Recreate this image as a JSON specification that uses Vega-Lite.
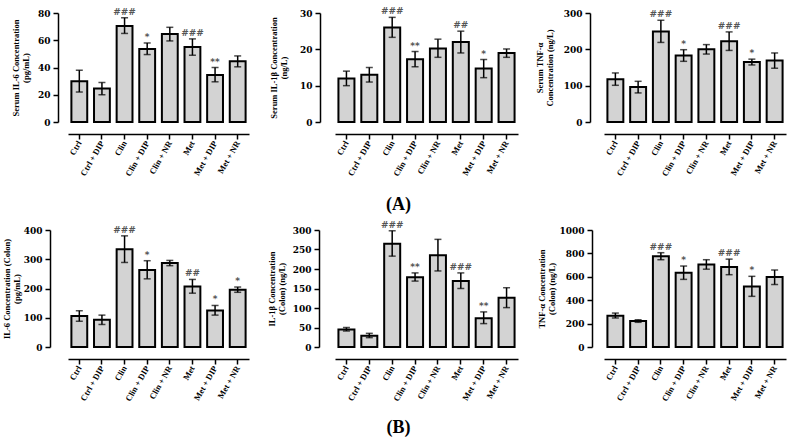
{
  "$schema": "https://vega.github.io/schema/vega-lite/v6.json",
  "background": "white",
  "padding": {"left": 2, "top": 7, "right": 5, "bottom": 5},
  "config": {
    "view": {"stroke": null},
    "axis": {"grid": false, "domainColor": "black", "tickColor": "black", "labelColor": "black", "titleColor": "black"},
    "axisX": {"offset": 12, "domainWidth": 1.5, "tickWidth": 1.5, "tickSize": 5, "labelAngle": -60, "labelFont": "Liberation Serif", "labelFontWeight": "bold", "labelFontSize": 8.5, "labelPadding": 2},
    "axisY": {"domainWidth": 1.5, "tickWidth": 1.5, "tickSize": 5, "labelOverlap": false, "format": "d", "labelFont": "DejaVu Serif", "labelFontWeight": "bold", "labelFontSize": 9, "labelPadding": 3, "titleFont": "Liberation Serif", "titleFontWeight": "bold", "titleFontSize": 8.5, "titlePadding": 5, "titleLineHeight": 10}
  },
  "data": {"values": [
    {"panel": "p1", "group": "Ctrl", "mean": 30, "lo": 22, "hi": 38, "sig": ""},
    {"panel": "p1", "group": "Ctrl + DIP", "mean": 24.5, "lo": 20, "hi": 29, "sig": ""},
    {"panel": "p1", "group": "Clin", "mean": 70.5, "lo": 65, "hi": 76.5, "sig": "###"},
    {"panel": "p1", "group": "Clin + DIP", "mean": 53.5, "lo": 49.5, "hi": 58, "sig": "*"},
    {"panel": "p1", "group": "Clin + NR", "mean": 64.5, "lo": 59.5, "hi": 69.5, "sig": ""},
    {"panel": "p1", "group": "Met", "mean": 55, "lo": 49, "hi": 61, "sig": "###"},
    {"panel": "p1", "group": "Met + DIP", "mean": 34.5, "lo": 29.5, "hi": 40, "sig": "**"},
    {"panel": "p1", "group": "Met + NR", "mean": 44.5, "lo": 40.5, "hi": 48.5, "sig": ""},
    {"panel": "p2", "group": "Ctrl", "mean": 12, "lo": 10, "hi": 14, "sig": ""},
    {"panel": "p2", "group": "Ctrl + DIP", "mean": 13, "lo": 11, "hi": 15, "sig": ""},
    {"panel": "p2", "group": "Clin", "mean": 26, "lo": 23.3, "hi": 28.8, "sig": "###"},
    {"panel": "p2", "group": "Clin + DIP", "mean": 17.3, "lo": 15.2, "hi": 19.4, "sig": "**"},
    {"panel": "p2", "group": "Clin + NR", "mean": 20.2, "lo": 17.8, "hi": 22.8, "sig": ""},
    {"panel": "p2", "group": "Met", "mean": 22, "lo": 19, "hi": 25, "sig": "##"},
    {"panel": "p2", "group": "Met + DIP", "mean": 14.7, "lo": 12.2, "hi": 17.2, "sig": "*"},
    {"panel": "p2", "group": "Met + NR", "mean": 19, "lo": 17.8, "hi": 20.1, "sig": ""},
    {"panel": "p3", "group": "Ctrl", "mean": 118, "lo": 101, "hi": 135, "sig": ""},
    {"panel": "p3", "group": "Ctrl + DIP", "mean": 96, "lo": 80, "hi": 112, "sig": ""},
    {"panel": "p3", "group": "Clin", "mean": 249, "lo": 219, "hi": 280, "sig": "###"},
    {"panel": "p3", "group": "Clin + DIP", "mean": 183, "lo": 167, "hi": 199, "sig": "*"},
    {"panel": "p3", "group": "Clin + NR", "mean": 200, "lo": 187, "hi": 213, "sig": ""},
    {"panel": "p3", "group": "Met", "mean": 222, "lo": 197, "hi": 248, "sig": "###"},
    {"panel": "p3", "group": "Met + DIP", "mean": 165, "lo": 157, "hi": 173, "sig": "*"},
    {"panel": "p3", "group": "Met + NR", "mean": 169, "lo": 148, "hi": 190, "sig": ""},
    {"panel": "p4", "group": "Ctrl", "mean": 106, "lo": 88, "hi": 124, "sig": ""},
    {"panel": "p4", "group": "Ctrl + DIP", "mean": 93, "lo": 77, "hi": 109, "sig": ""},
    {"panel": "p4", "group": "Clin", "mean": 334, "lo": 289, "hi": 380, "sig": "###"},
    {"panel": "p4", "group": "Clin + DIP", "mean": 263, "lo": 233, "hi": 295, "sig": "*"},
    {"panel": "p4", "group": "Clin + NR", "mean": 287, "lo": 278, "hi": 296, "sig": ""},
    {"panel": "p4", "group": "Met", "mean": 207, "lo": 184, "hi": 231, "sig": "##"},
    {"panel": "p4", "group": "Met + DIP", "mean": 125, "lo": 109, "hi": 142, "sig": "*"},
    {"panel": "p4", "group": "Met + NR", "mean": 196, "lo": 187, "hi": 205, "sig": "*"},
    {"panel": "p5", "group": "Ctrl", "mean": 45, "lo": 41, "hi": 50, "sig": ""},
    {"panel": "p5", "group": "Ctrl + DIP", "mean": 29, "lo": 24, "hi": 35, "sig": ""},
    {"panel": "p5", "group": "Clin", "mean": 265, "lo": 233, "hi": 298, "sig": "###"},
    {"panel": "p5", "group": "Clin + DIP", "mean": 179, "lo": 169, "hi": 190, "sig": "**"},
    {"panel": "p5", "group": "Clin + NR", "mean": 235, "lo": 195, "hi": 276, "sig": ""},
    {"panel": "p5", "group": "Met", "mean": 169, "lo": 150, "hi": 190, "sig": "###"},
    {"panel": "p5", "group": "Met + DIP", "mean": 74, "lo": 60, "hi": 90, "sig": "**"},
    {"panel": "p5", "group": "Met + NR", "mean": 126, "lo": 101, "hi": 152, "sig": ""},
    {"panel": "p6", "group": "Ctrl", "mean": 268, "lo": 248, "hi": 290, "sig": ""},
    {"panel": "p6", "group": "Ctrl + DIP", "mean": 222, "lo": 211, "hi": 233, "sig": ""},
    {"panel": "p6", "group": "Clin", "mean": 775, "lo": 746, "hi": 806, "sig": "###"},
    {"panel": "p6", "group": "Clin + DIP", "mean": 635, "lo": 578, "hi": 692, "sig": "*"},
    {"panel": "p6", "group": "Clin + NR", "mean": 706, "lo": 665, "hi": 746, "sig": ""},
    {"panel": "p6", "group": "Met", "mean": 684, "lo": 618, "hi": 751, "sig": "###"},
    {"panel": "p6", "group": "Met + DIP", "mean": 518, "lo": 433, "hi": 604, "sig": "*"},
    {"panel": "p6", "group": "Met + NR", "mean": 598, "lo": 534, "hi": 658, "sig": ""}
  ]},
  "spacing": 217,
  "bounds": "flush",
  "vconcat": [
    {
      "spacing": 86,
      "bounds": "flush",
      "hconcat": [
        {
          "width": 181, "height": 109,
          "transform": [{"filter": "datum.panel === 'p1'"}],
          "encoding": {
            "x": {"field": "group", "type": "nominal", "sort": ["Ctrl", "Ctrl + DIP", "Clin", "Clin + DIP", "Clin + NR", "Met", "Met + DIP", "Met + NR"], "scale": {"paddingInner": 0.3, "paddingOuter": 0.15}, "axis": {"title": null}},
            "y": {"field": "mean", "type": "quantitative", "scale": {"domain": [0, 80], "nice": false}, "axis": {"title": ["Serum IL-6 Concentration", "(pg/mL)"], "values": [0, 20, 40, 60, 80], "labelOverlap": false, "format": "d", "offset": 10, "titlePadding": 7}}
          },
          "layer": [
            {"mark": {"type": "bar", "fill": "#d3d3d3", "stroke": "black", "strokeWidth": 2}},
            {"mark": {"type": "rule", "color": "black", "strokeWidth": 1.5}, "encoding": {"y": {"field": "lo"}, "y2": {"field": "hi"}}},
            {"mark": {"type": "tick", "color": "black", "size": 7, "thickness": 1.5}, "encoding": {"y": {"field": "lo"}}},
            {"mark": {"type": "tick", "color": "black", "size": 7, "thickness": 1.5}, "encoding": {"y": {"field": "hi"}}},
            {"mark": {"type": "text", "baseline": "alphabetic", "dy": -3, "font": "DejaVu Sans", "fontWeight": "bold", "fontSize": 9, "color": "#555"}, "encoding": {"y": {"field": "hi"}, "text": {"field": "sig"}}}
          ]
        },
        {
          "width": 183, "height": 109,
          "transform": [{"filter": "datum.panel === 'p2'"}],
          "encoding": {
            "x": {"field": "group", "type": "nominal", "sort": ["Ctrl", "Ctrl + DIP", "Clin", "Clin + DIP", "Clin + NR", "Met", "Met + DIP", "Met + NR"], "scale": {"paddingInner": 0.3, "paddingOuter": 0.15}, "title": "(A)", "axis": {"titleX": 63, "titleY": 70, "titleBaseline": "middle", "titleAlign": "center", "titleFont": "Liberation Serif", "titleFontWeight": "bold", "titleFontSize": 18, "titleColor": "black"}},
            "y": {"field": "mean", "type": "quantitative", "scale": {"domain": [0, 30], "nice": false}, "axis": {"title": ["Serum IL-1β Concentration", "(ng/L)"], "values": [0, 10, 20, 30], "labelOverlap": false, "format": "d", "offset": 15, "titlePadding": 11}}
          },
          "layer": [
            {"mark": {"type": "bar", "fill": "#d3d3d3", "stroke": "black", "strokeWidth": 2}},
            {"mark": {"type": "rule", "color": "black", "strokeWidth": 1.5}, "encoding": {"y": {"field": "lo"}, "y2": {"field": "hi"}}},
            {"mark": {"type": "tick", "color": "black", "size": 7, "thickness": 1.5}, "encoding": {"y": {"field": "lo"}}},
            {"mark": {"type": "tick", "color": "black", "size": 7, "thickness": 1.5}, "encoding": {"y": {"field": "hi"}}},
            {"mark": {"type": "text", "baseline": "alphabetic", "dy": -3, "font": "DejaVu Sans", "fontWeight": "bold", "fontSize": 9, "color": "#555"}, "encoding": {"y": {"field": "hi"}, "text": {"field": "sig"}}}
          ]
        },
        {
          "width": 182, "height": 109,
          "transform": [{"filter": "datum.panel === 'p3'"}],
          "encoding": {
            "x": {"field": "group", "type": "nominal", "sort": ["Ctrl", "Ctrl + DIP", "Clin", "Clin + DIP", "Clin + NR", "Met", "Met + DIP", "Met + NR"], "scale": {"paddingInner": 0.3, "paddingOuter": 0.15}, "axis": {"title": null}},
            "y": {"field": "mean", "type": "quantitative", "scale": {"domain": [0, 300], "nice": false}, "axis": {"title": ["Serum  TNF-α", "Concentration (ng/L)"], "values": [0, 100, 200, 300], "labelOverlap": false, "format": "d", "offset": 14, "titlePadding": 9}}
          },
          "layer": [
            {"mark": {"type": "bar", "fill": "#d3d3d3", "stroke": "black", "strokeWidth": 2}},
            {"mark": {"type": "rule", "color": "black", "strokeWidth": 1.5}, "encoding": {"y": {"field": "lo"}, "y2": {"field": "hi"}}},
            {"mark": {"type": "tick", "color": "black", "size": 7, "thickness": 1.5}, "encoding": {"y": {"field": "lo"}}},
            {"mark": {"type": "tick", "color": "black", "size": 7, "thickness": 1.5}, "encoding": {"y": {"field": "hi"}}},
            {"mark": {"type": "text", "baseline": "alphabetic", "dy": -3, "font": "DejaVu Sans", "fontWeight": "bold", "fontSize": 9, "color": "#555"}, "encoding": {"y": {"field": "hi"}, "text": {"field": "sig"}}}
          ]
        }
      ]
    },
    {
      "spacing": 86,
      "bounds": "flush",
      "hconcat": [
        {
          "width": 181, "height": 117,
          "transform": [{"filter": "datum.panel === 'p4'"}],
          "encoding": {
            "x": {"field": "group", "type": "nominal", "sort": ["Ctrl", "Ctrl + DIP", "Clin", "Clin + DIP", "Clin + NR", "Met", "Met + DIP", "Met + NR"], "scale": {"paddingInner": 0.3, "paddingOuter": 0.15}, "axis": {"title": null}},
            "y": {"field": "mean", "type": "quantitative", "scale": {"domain": [0, 400], "nice": false}, "axis": {"title": ["IL-6 Concentration (Colon)", "(pg/mL)"], "values": [0, 100, 200, 300, 400], "labelOverlap": false, "format": "d", "offset": 18, "titlePadding": 2}}
          },
          "layer": [
            {"mark": {"type": "bar", "fill": "#d3d3d3", "stroke": "black", "strokeWidth": 2}},
            {"mark": {"type": "rule", "color": "black", "strokeWidth": 1.5}, "encoding": {"y": {"field": "lo"}, "y2": {"field": "hi"}}},
            {"mark": {"type": "tick", "color": "black", "size": 7, "thickness": 1.5}, "encoding": {"y": {"field": "lo"}}},
            {"mark": {"type": "tick", "color": "black", "size": 7, "thickness": 1.5}, "encoding": {"y": {"field": "hi"}}},
            {"mark": {"type": "text", "baseline": "alphabetic", "dy": -3, "font": "DejaVu Sans", "fontWeight": "bold", "fontSize": 9, "color": "#555"}, "encoding": {"y": {"field": "hi"}, "text": {"field": "sig"}}}
          ]
        },
        {
          "width": 183, "height": 117,
          "transform": [{"filter": "datum.panel === 'p5'"}],
          "encoding": {
            "x": {"field": "group", "type": "nominal", "sort": ["Ctrl", "Ctrl + DIP", "Clin", "Clin + DIP", "Clin + NR", "Met", "Met + DIP", "Met + NR"], "scale": {"paddingInner": 0.3, "paddingOuter": 0.15}, "title": "(B)", "axis": {"titleX": 63, "titleY": 68, "titleBaseline": "middle", "titleAlign": "center", "titleFont": "Liberation Serif", "titleFontWeight": "bold", "titleFontSize": 18, "titleColor": "black"}},
            "y": {"field": "mean", "type": "quantitative", "scale": {"domain": [0, 300], "nice": false}, "axis": {"title": ["IL-1β Concentration", "(Colon) (ng/L)"], "values": [0, 50, 100, 150, 200, 250, 300], "labelOverlap": false, "format": "d", "offset": 16, "titlePadding": 6}}
          },
          "layer": [
            {"mark": {"type": "bar", "fill": "#d3d3d3", "stroke": "black", "strokeWidth": 2}},
            {"mark": {"type": "rule", "color": "black", "strokeWidth": 1.5}, "encoding": {"y": {"field": "lo"}, "y2": {"field": "hi"}}},
            {"mark": {"type": "tick", "color": "black", "size": 7, "thickness": 1.5}, "encoding": {"y": {"field": "lo"}}},
            {"mark": {"type": "tick", "color": "black", "size": 7, "thickness": 1.5}, "encoding": {"y": {"field": "hi"}}},
            {"mark": {"type": "text", "baseline": "alphabetic", "dy": -3, "font": "DejaVu Sans", "fontWeight": "bold", "fontSize": 9, "color": "#555"}, "encoding": {"y": {"field": "hi"}, "text": {"field": "sig"}}}
          ]
        },
        {
          "width": 182, "height": 117,
          "transform": [{"filter": "datum.panel === 'p6'"}],
          "encoding": {
            "x": {"field": "group", "type": "nominal", "sort": ["Ctrl", "Ctrl + DIP", "Clin", "Clin + DIP", "Clin + NR", "Met", "Met + DIP", "Met + NR"], "scale": {"paddingInner": 0.3, "paddingOuter": 0.15}, "axis": {"title": null}},
            "y": {"field": "mean", "type": "quantitative", "scale": {"domain": [0, 1000], "nice": false}, "axis": {"title": ["TNF-α Concentration", "(Colon) (ng/L)"], "values": [0, 200, 400, 600, 800, 1000], "labelOverlap": false, "format": "d", "offset": 12, "titlePadding": 2}}
          },
          "layer": [
            {"mark": {"type": "bar", "fill": "#d3d3d3", "stroke": "black", "strokeWidth": 2}},
            {"mark": {"type": "rule", "color": "black", "strokeWidth": 1.5}, "encoding": {"y": {"field": "lo"}, "y2": {"field": "hi"}}},
            {"mark": {"type": "tick", "color": "black", "size": 7, "thickness": 1.5}, "encoding": {"y": {"field": "lo"}}},
            {"mark": {"type": "tick", "color": "black", "size": 7, "thickness": 1.5}, "encoding": {"y": {"field": "hi"}}},
            {"mark": {"type": "text", "baseline": "alphabetic", "dy": -3, "font": "DejaVu Sans", "fontWeight": "bold", "fontSize": 9, "color": "#555"}, "encoding": {"y": {"field": "hi"}, "text": {"field": "sig"}}}
          ]
        }
      ]
    }
  ]
}
